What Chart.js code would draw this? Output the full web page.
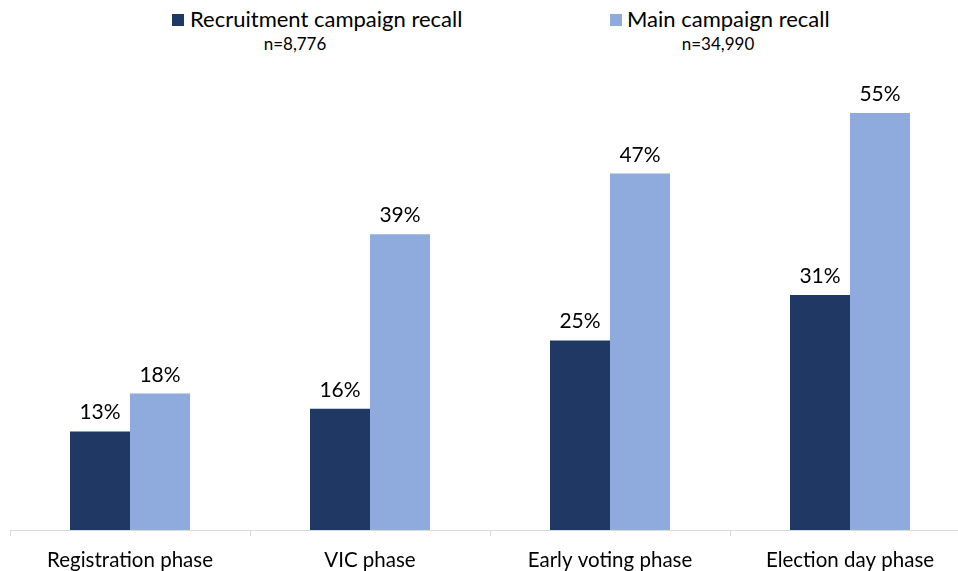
<!DOCTYPE html>
<html>
<head>
<meta charset="utf-8">
<script src="https://cdn.jsdelivr.net/npm/chart.js@4"></script>
<style>
    html, body { margin: 0; padding: 0; background: #fff; overflow: hidden; }
    body { width: 958px; height: 571px; position: relative; font-family: Lato, sans-serif; color: #000; }
    #wrap { position: absolute; left: 0; top: 0; width: 980px; height: 571px; }
    .sw { position: absolute; width: 12px; height: 12px; top: 14px; }
    .lg-text { position: absolute; top: 8px; font-size: 22px; line-height: 22px; white-space: nowrap; }
    .lg-n { position: absolute; top: 35px; font-size: 17px; line-height: 17px; white-space: nowrap; transform: translateX(-50%); }
</style>
</head>
<body>
<div id="legend"></div>
<div id="wrap"><canvas id="mainChart" width="980" height="571"></canvas></div>
<script>
// Chart data
const categories = ['Registration phase', 'VIC phase', 'Early voting phase', 'Election day phase'];
const recruitmentRecall = [13, 16, 25, 31];
const mainRecall = [18, 39, 47, 55];
const seriesNames = ['Recruitment campaign recall', 'Main campaign recall'];
const sampleSizes = ['n=8,776', 'n=34,990'];

const colors = ['#203864', '#8faadc'];
const FONT = 'Lato, sans-serif';

// Legend (with sample size under each entry) - placed by hand
const swatchLeft = [172, 610];
const textLeft = [190, 627];
const nCenter = [295, 718];
const legendEl = document.getElementById('legend');
seriesNames.forEach((name, i) => {
    legendEl.insertAdjacentHTML('beforeend',
        `<div class="sw" style="left:${swatchLeft[i]}px;background:${colors[i]}"></div>` +
        `<div class="lg-text" style="left:${textLeft[i]}px">${name}</div>` +
        `<div class="lg-n" style="left:${nCenter[i]}px">${sampleSizes[i]}</div>`);
});

// Draws value labels above each bar
const valueLabels = {
    id: 'valueLabels',
    afterDatasetsDraw(chart) {
        const ctx = chart.ctx;
        ctx.save();
        ctx.font = '21px ' + FONT;
        ctx.fillStyle = '#000';
        ctx.textAlign = 'center';
        ctx.textBaseline = 'alphabetic';
        chart.data.datasets.forEach((ds, di) => {
            chart.getDatasetMeta(di).data.forEach((bar, i) => {
                ctx.fillText(ds.data[i] + '%', bar.x, bar.y - 12);
            });
        });
        ctx.restore();
    }
};

new Chart(document.getElementById('mainChart'), {
    type: 'bar',
    data: {
        labels: categories,
        datasets: [
            { label: seriesNames[0], data: recruitmentRecall, backgroundColor: colors[0] },
            { label: seriesNames[1], data: mainRecall, backgroundColor: colors[1] }
        ]
    },
    options: {
        responsive: false,
        animation: false,
        layout: { padding: { left: 10, right: 10, top: 75, bottom: 0 } },
        datasets: { bar: { categoryPercentage: 0.5, barPercentage: 1.0 } },
        plugins: {
            legend: { display: false },
            tooltip: { enabled: false }
        },
        scales: {
            x: {
                grid: { offset: true, drawOnChartArea: false, drawTicks: true, tickLength: 6, color: '#d9d9d9' },
                border: { display: true, color: '#d9d9d9', width: 1 },
                ticks: { color: '#000', font: { family: FONT, size: 20.5 }, padding: 12, maxRotation: 0 },
                afterFit(scale) { scale.height = 41; }
            },
            y: {
                display: false,
                min: 0,
                max: 60
            }
        }
    },
    plugins: [valueLabels]
});
</script>
</body>
</html>
